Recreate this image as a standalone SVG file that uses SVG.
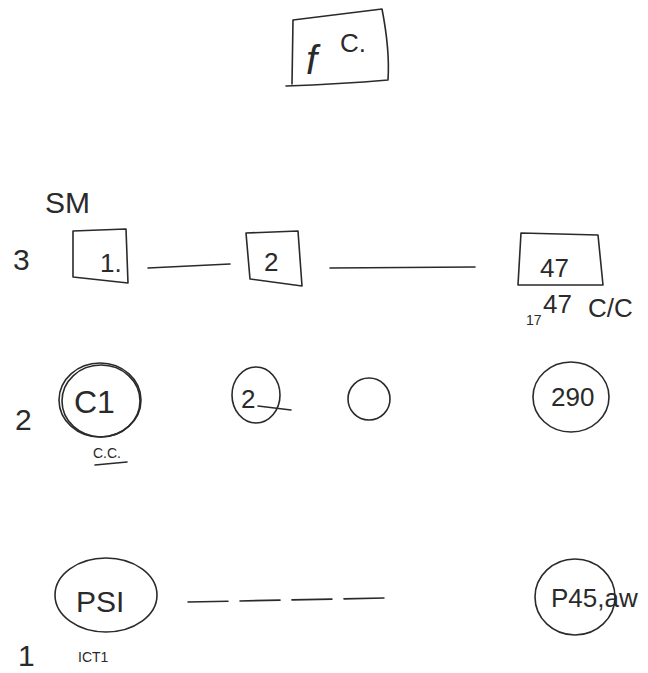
<svg xmlns="http://www.w3.org/2000/svg" width="648" height="673" viewBox="0 0 648 673">
<style>
.s{fill:none;stroke:#2a2a2a;stroke-width:1.6;stroke-linecap:round;stroke-linejoin:round}
.t{font-family:"Liberation Sans","DejaVu Sans",sans-serif;fill:#2a2a2a}
.big{font-size:30px}
.mid{font-size:26px}
.sm{font-size:14px}
</style>
<rect width="648" height="673" fill="#ffffff"/>
<g id="fc">
<path class="s" d="M293,20 L382,9 Q390,50 388,80 Q340,84 286,86 M293,20 L292,84"/>
<text class="t" x="306" y="74" font-size="40" font-style="italic">f</text>
<text class="t mid" x="340" y="52">C.</text>
</g>
<text class="t big" x="45" y="213">SM</text>
<text class="t big" x="13" y="270">3</text>
<text class="t big" x="15" y="430">2</text>
<text class="t big" x="18" y="666">1</text>
<g id="box1">
<path class="s" d="M73,231 L126,229 L128,283 L73,277 Z"/>
<text class="t mid" x="100" y="272">1.</text>
</g>
<g id="box2">
<path class="s" d="M246,233 L298,231 L302,286 L250,279 Z"/>
<text class="t mid" x="264" y="271">2</text>
</g>
<g id="box47">
<path class="s" d="M521,233 L598,235 L603,285 L518,285 Z"/>
<text class="t mid" x="540" y="277">47</text>
<text class="t sm" x="526" y="325">17</text>
<text class="t mid" x="543" y="313">47</text>
<text class="t mid" x="588" y="317">C/C</text>
</g>
<g id="c1">
<ellipse class="s" cx="100" cy="400" rx="41" ry="37"/>
<ellipse class="s" cx="101" cy="401" rx="39" ry="36"/>
<text class="t" x="74" y="413" font-size="32">C1</text>
<text class="t sm" x="93" y="458">C.C.</text>
<path class="s" d="M95,465 L127,462"/>
</g>
<g id="c2">
<ellipse class="s" cx="256" cy="395" rx="24" ry="28"/>
<text class="t mid" x="241" y="408">2</text>
<path class="s" d="M258,406 L291,410"/>
</g>
<g id="c3">
<ellipse class="s" cx="369" cy="399" rx="21" ry="21"/>
</g>
<g id="c290">
<ellipse class="s" cx="571" cy="397" rx="38" ry="35"/>
<text class="t mid" x="551" y="406">290</text>
</g>
<g id="psi">
<ellipse class="s" cx="106" cy="595" rx="51" ry="37"/>
<text class="t" x="76" y="612" font-size="30">PSI</text>
<text class="t sm" x="78" y="662">ICT1</text>
</g>
<g id="p45">
<ellipse class="s" cx="575" cy="597" rx="40" ry="38"/>
<text class="t mid" x="551" y="607">P45,aw</text>
</g>
<g id="connectors">
<path class="s" d="M148,268 L230,264"/>
<path class="s" d="M330,268 L475,267"/>
<path class="s" d="M188,602 L385,598" stroke-dasharray="40,12"/>
</g>
</svg>
